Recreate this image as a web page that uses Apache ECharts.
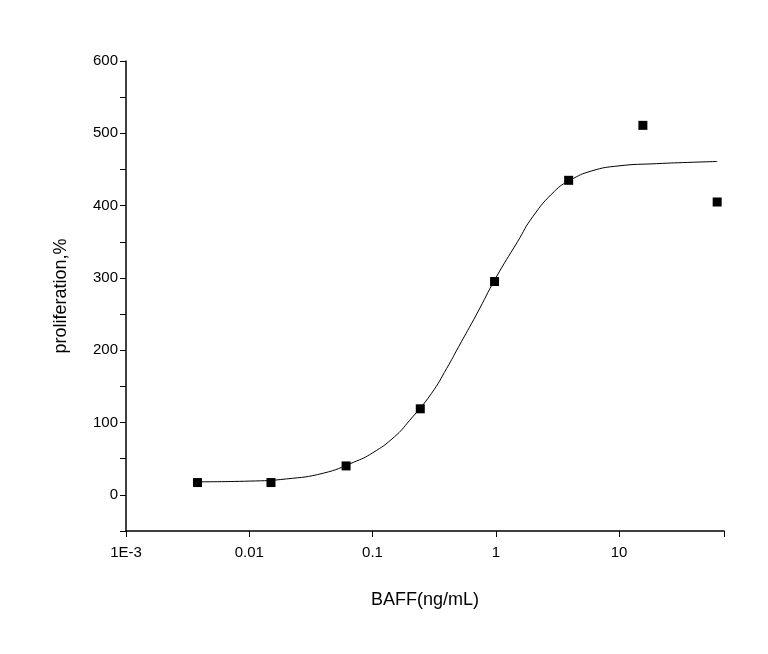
<!DOCTYPE html>
<html>
<head>
<meta charset="utf-8">
<script src="https://cdn.jsdelivr.net/npm/echarts@6/dist/echarts.min.js"></script>
<style>
    html, body { margin: 0; padding: 0; background: #fff; }
    #chart { width: 768px; height: 654px; }
</style>
</head>
<body>
<div id="chart"></div>
<script>
// measured points
var doseX = [0.0038, 0.015, 0.061, 0.244, 0.977, 3.9, 15.6, 62.5];
var prolifY = [17, 17, 40, 119, 295, 435, 511, 405];
// fitted curve
var curveX = [0.0038, 0.01, 0.02, 0.04, 0.07, 0.1, 0.15, 0.2, 0.3, 0.4, 0.5, 0.7, 1, 1.5, 2, 3, 4, 6, 10, 20, 40, 62.5];
var curveY = [18, 19, 22, 30, 45, 58, 80, 103, 140, 175, 205, 250, 300, 350, 385, 420, 435, 448, 455, 458, 460, 461];

var font = 'Liberation Sans, Arial, sans-serif';
var chart = echarts.init(document.getElementById('chart'));

var option = {
    backgroundColor: '#fff',
    animation: false,
    grid: { left: 126, right: 44, top: 61, bottom: 123 },
    xAxis: {
        type: 'log',
        min: 0.001,
        max: 71,
        name: 'BAFF(ng/mL)',
        nameLocation: 'middle',
        nameGap: 60,
        nameTextStyle: { fontFamily: font, fontSize: 18, color: '#000' },
        axisLine: { onZero: false, lineStyle: { color: '#000', width: 1.5 } },
        axisTick: { inside: false, length: 6, lineStyle: { color: '#000' } },
        axisLabel: {
            fontFamily: font, fontSize: 15, color: '#000', margin: 14,
            formatter: function (v) {
                var l = Math.log10(v);
                if (Math.abs(l - Math.round(l)) > 1e-6) return '';
                if (Math.round(l) === -3) return '1E-3';
                return String(+v.toPrecision(3));
            }
        },
        splitLine: { show: false }
    },
    yAxis: {
        type: 'value',
        min: -50,
        max: 600,
        interval: 50,
        name: 'proliferation,%',
        nameLocation: 'middle',
        nameGap: 56,
        nameTextStyle: { fontFamily: font, fontSize: 18, color: '#000' },
        axisLine: { show: true, lineStyle: { color: '#000', width: 1.5 } },
        axisTick: { show: true, length: 6, lineStyle: { color: '#000' } },
        axisLabel: {
            fontFamily: font, fontSize: 15, color: '#000',
            formatter: function (v) { return v % 100 === 0 ? v : ''; }
        },
        splitLine: { show: false }
    },
    series: [
        {
            type: 'line',
            data: curveX.map(function (x, i) { return [x, curveY[i]]; }),
            smooth: true,
            showSymbol: false,
            lineStyle: { color: '#000', width: 1 }
        },
        {
            type: 'scatter',
            data: doseX.map(function (x, i) { return [x, prolifY[i]]; }),
            symbol: 'rect',
            symbolSize: 9,
            itemStyle: { color: '#000', opacity: 1 }
        }
    ]
};
chart.setOption(option);
</script>
</body>
</html>
